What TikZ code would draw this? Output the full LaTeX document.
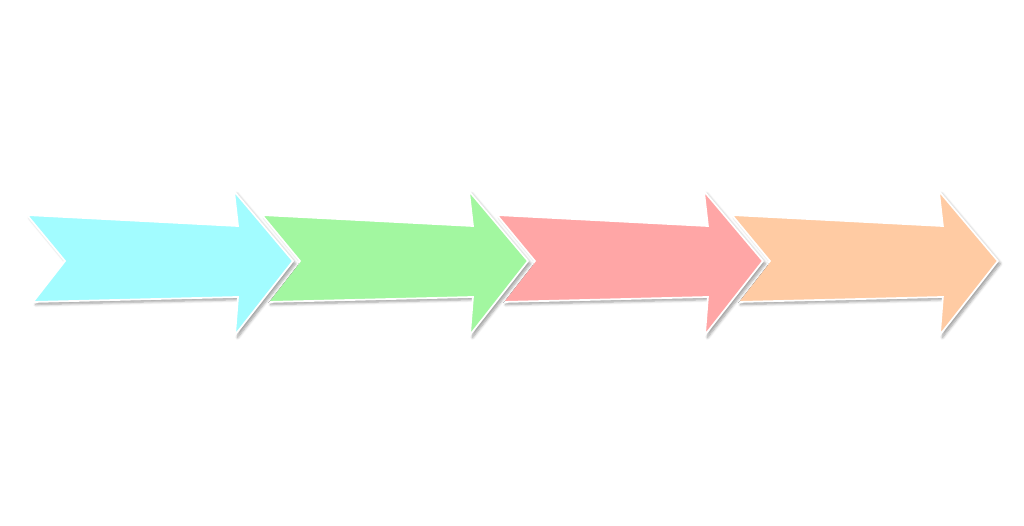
\documentclass[tikz,border=0pt]{standalone}
\usetikzlibrary{shadows.blur}
\definecolor{arCyan} {HTML}{A2FCFF}
\definecolor{arMint} {HTML}{A2F7A0}
\definecolor{arRose} {HTML}{FFA6A6}
\definecolor{arPeach}{HTML}{FFCBA3}
\tikzset{
  chevron/.style={draw=white,line width=1pt,line join=miter,
    blur shadow={shadow xshift=1.5pt,shadow yshift=-1.5pt,
      shadow blur steps=6,shadow blur radius=1.5pt,shadow opacity=38}},
}
\begin{document}
\begin{tikzpicture}[x=0.02cm,y=-0.02cm]
  \useasboundingbox (0,0) rectangle (1024,526);
  % right to left, so each tip lies over the next tail
  \foreach \i/\col in {3/arPeach,2/arRose,1/arMint,0/arCyan}{
    \begin{scope}[xshift=\i*4.7cm]
      \fill[chevron,fill=\col] (27,215) -- (238,226) -- (234,191) -- (293,261)
        -- (235,335) -- (238,297) -- (33,302) -- (65,261) -- cycle;
    \end{scope}
  }
\end{tikzpicture}
\end{document}
